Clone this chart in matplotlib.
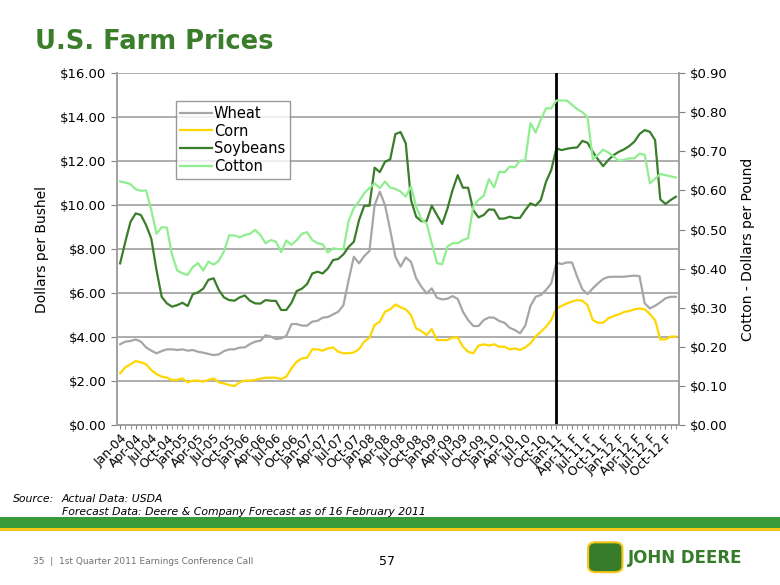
import numpy as np
import matplotlib
matplotlib.use("Agg")
import matplotlib.pyplot as plt
from matplotlib.patches import Rectangle, FancyBboxPatch

# monthly prices Jan-04 .. Dec-12 (forecast from Feb-11)
wheat = [3.67, 3.79, 3.82, 3.89, 3.79, 3.53, 3.38, 3.26, 3.36, 3.44, 3.44, 3.41,
         3.44, 3.38, 3.41, 3.33, 3.29, 3.23, 3.18, 3.21, 3.36, 3.44, 3.44, 3.52,
         3.53, 3.68, 3.79, 3.83, 4.08, 4.02, 3.91, 3.94, 4.05, 4.59, 4.59, 4.52,
         4.52, 4.70, 4.74, 4.88, 4.91, 5.03, 5.15, 5.45, 6.59, 7.65, 7.35, 7.68,
         7.91, 10.00, 10.61, 10.00, 8.86, 7.65, 7.20, 7.62, 7.42, 6.67, 6.29, 5.98,
         6.21, 5.79, 5.71, 5.74, 5.86, 5.73, 5.15, 4.77, 4.50, 4.50, 4.77, 4.89,
         4.88, 4.73, 4.65, 4.42, 4.32, 4.17, 4.52, 5.41, 5.83, 5.91, 6.14, 6.44,
         7.38, 7.32, 7.39, 7.39, 6.74, 6.17, 5.95, 6.21, 6.44, 6.64, 6.73, 6.74,
         6.74, 6.74, 6.77, 6.79, 6.77, 5.53, 5.30, 5.42, 5.58, 5.76, 5.83, 5.83]
corn = [2.35, 2.62, 2.76, 2.91, 2.85, 2.76, 2.50, 2.32, 2.20, 2.15, 2.05, 2.05,
        2.12, 1.94, 2.02, 2.02, 1.97, 2.05, 2.12, 1.94, 1.89, 1.82, 1.77, 1.94,
        2.02, 2.02, 2.05, 2.11, 2.15, 2.15, 2.15, 2.09, 2.20, 2.58, 2.88, 3.03,
        3.06, 3.44, 3.44, 3.38, 3.48, 3.53, 3.33, 3.26, 3.26, 3.30, 3.45, 3.79,
        3.97, 4.55, 4.70, 5.15, 5.26, 5.48, 5.35, 5.26, 5.00, 4.39, 4.27, 4.09,
        4.36, 3.86, 3.86, 3.86, 3.98, 3.98, 3.56, 3.33, 3.26, 3.61, 3.67, 3.61,
        3.67, 3.56, 3.56, 3.44, 3.48, 3.41, 3.53, 3.71, 4.02, 4.24, 4.47, 4.77,
        5.30, 5.41, 5.53, 5.61, 5.68, 5.65, 5.45, 4.77, 4.65, 4.65, 4.85, 4.95,
        5.03, 5.14, 5.18, 5.26, 5.30, 5.26, 5.05, 4.77, 3.89, 3.89, 4.02, 4.02]
soybeans = [7.35, 8.33, 9.24, 9.62, 9.55, 9.09, 8.48, 7.05, 5.83, 5.53, 5.38, 5.45,
            5.56, 5.41, 5.95, 6.03, 6.20, 6.60, 6.67, 6.14, 5.80, 5.68, 5.65, 5.80,
            5.89, 5.65, 5.53, 5.52, 5.68, 5.65, 5.64, 5.23, 5.23, 5.56, 6.09, 6.20,
            6.41, 6.89, 6.97, 6.89, 7.12, 7.50, 7.55, 7.76, 8.10, 8.33, 9.32, 9.97,
            9.97, 11.70, 11.50, 11.97, 12.08, 13.23, 13.32, 12.80, 10.23, 9.47, 9.27, 9.27,
            9.97, 9.55, 9.14, 9.82, 10.68, 11.36, 10.79, 10.79, 9.77, 9.44, 9.55, 9.80,
            9.79, 9.38, 9.39, 9.47, 9.41, 9.42, 9.77, 10.08, 9.98, 10.23, 11.06, 11.59,
            12.58, 12.50, 12.56, 12.60, 12.62, 12.92, 12.83, 12.42, 12.08, 11.77, 12.05, 12.27,
            12.42, 12.53, 12.68, 12.88, 13.23, 13.41, 13.33, 12.95, 10.26, 10.05, 10.23, 10.38]
cotton = [0.623, 0.620, 0.616, 0.603, 0.599, 0.600, 0.550, 0.489, 0.506, 0.505, 0.435, 0.395,
          0.388, 0.384, 0.404, 0.414, 0.395, 0.418, 0.410, 0.420, 0.444, 0.485, 0.485, 0.480,
          0.486, 0.489, 0.499, 0.486, 0.465, 0.473, 0.469, 0.442, 0.472, 0.461, 0.473, 0.489,
          0.493, 0.473, 0.465, 0.462, 0.441, 0.452, 0.450, 0.450, 0.522, 0.555, 0.572, 0.593,
          0.606, 0.618, 0.606, 0.623, 0.607, 0.604, 0.597, 0.584, 0.610, 0.559, 0.526, 0.516,
          0.465, 0.414, 0.411, 0.456, 0.465, 0.465, 0.473, 0.478, 0.559, 0.576, 0.586, 0.629,
          0.608, 0.648, 0.646, 0.661, 0.659, 0.676, 0.677, 0.772, 0.748, 0.781, 0.810, 0.810,
          0.830, 0.830, 0.830, 0.819, 0.808, 0.800, 0.787, 0.680, 0.691, 0.704, 0.697, 0.687,
          0.676, 0.678, 0.682, 0.682, 0.694, 0.691, 0.618, 0.630, 0.642, 0.639, 0.636, 0.633]

months = ["Jan", "Feb", "Mar", "Apr", "May", "Jun", "Jul", "Aug", "Sep", "Oct", "Nov", "Dec"]
labels = []
for y in range(4, 13):
    for m in months:
        lab = "%s-%02d" % (m, y)
        if y > 11 or (y == 11 and m != "Jan"):
            lab += " F"
        labels.append(lab)
forecast_start = labels.index("Jan-11")

green = "#3a7d2a"
x = np.arange(len(wheat))

fig = plt.figure(figsize=(7.8, 5.85), dpi=100)
ax = fig.add_axes([0.15, 0.2735, 0.7205, 0.6015])
ax2 = ax.twinx()

ax.plot(x, wheat, color="#a6a6a6", lw=1.6, label="Wheat")
ax.plot(x, corn, color="#ffd700", lw=1.6, label="Corn")
ax.plot(x, soybeans, color="#3a7d2a", lw=1.6, label="Soybeans")
ax2.plot(x, cotton, color="#90ee90", lw=1.6, label="Cotton")
ax.axvline(forecast_start, color="black", lw=2, zorder=5)

ax.set_xlim(-0.6, len(x) - 0.4)
ax.set_ylim(0, 16)
ax2.set_ylim(0, 0.9)
ax.set_yticks(np.arange(0, 17, 2))
ax.set_yticklabels(["$%.2f" % v for v in np.arange(0, 17, 2)], fontsize=9.5)
ax2.set_yticks(np.arange(0, 0.91, 0.1))
ax2.set_yticklabels(["$%.2f" % v for v in np.arange(0, 0.91, 0.1)], fontsize=9.5)
ax.yaxis.grid(True, color="#a0a0a0", lw=1.2)
ax.set_axisbelow(True)

ax.set_xticks(x[::3])
ax.set_xticklabels(labels[::3], rotation=45, ha="right", rotation_mode="anchor", fontsize=9)
ax.set_xticks(x, minor=True)
ax.tick_params(axis="x", which="both", length=3, color="#808080", pad=2)
ax.tick_params(axis="y", length=4, color="#808080")
ax2.tick_params(axis="y", length=4, color="#808080")

for a in (ax, ax2):
    a.spines["top"].set_visible(False)
    for s in ("left", "right", "bottom"):
        a.spines[s].set_color("#a0a0a0")
        a.spines[s].set_linewidth(1.2)

ax.set_ylabel("Dollars per Bushel", fontsize=10, labelpad=8)
ax2.set_ylabel("Cotton - Dollars per Pound", fontsize=10, labelpad=10)

h1, l1 = ax.get_legend_handles_labels()
h2, l2 = ax2.get_legend_handles_labels()
leg = ax2.legend(h1 + h2, l1 + l2, loc="upper left", bbox_to_anchor=(0.105, 0.92),
                 fontsize=10.5, frameon=True, fancybox=False, handlelength=2.2,
                 handletextpad=0.1, labelspacing=0.2, borderpad=0.3, borderaxespad=0)
leg.get_frame().set_edgecolor("#808080")
leg.get_frame().set_linewidth(1.0)

fig.text(0.045, 0.928, "U.S. Farm Prices", fontsize=18.5, fontweight="bold", color=green,
         va="center", ha="left")

fig.text(0.069, 0.147, "Source:", fontsize=7.8, style="italic", va="center", ha="right")
fig.text(0.079, 0.147, "Actual Data: USDA", fontsize=7.8, style="italic", va="center")
fig.text(0.079, 0.125, "Forecast Data: Deere & Company Forecast as of 16 February 2011",
         fontsize=7.8, style="italic", va="center")

# footer band
fig.patches.append(Rectangle((0, 1 - 528 / 585), 1, 11 / 585, transform=fig.transFigure,
                             facecolor="#3a9a3a", edgecolor="none"))
fig.patches.append(Rectangle((0, 1 - 531 / 585), 1, 3 / 585, transform=fig.transFigure,
                             facecolor="#f5c518", edgecolor="none"))
fig.text(0.042, 0.041, "35  |  1st Quarter 2011 Earnings Conference Call", fontsize=6.5,
         color="#707070", va="center")
fig.text(0.496, 0.040, "57", fontsize=9, va="center", ha="center")
fig.patches.append(FancyBboxPatch((0.756, 0.024), 0.04, 0.047, transform=fig.transFigure,
                                  boxstyle="round,pad=0.002,rounding_size=0.01",
                                  facecolor="#367c2b", edgecolor="#f5c518", lw=1.5))
fig.text(0.805, 0.046, "JOHN DEERE", fontsize=12, fontweight="bold", color="#367c2b",
         va="center")

fig.savefig("out.png", dpi=100)
